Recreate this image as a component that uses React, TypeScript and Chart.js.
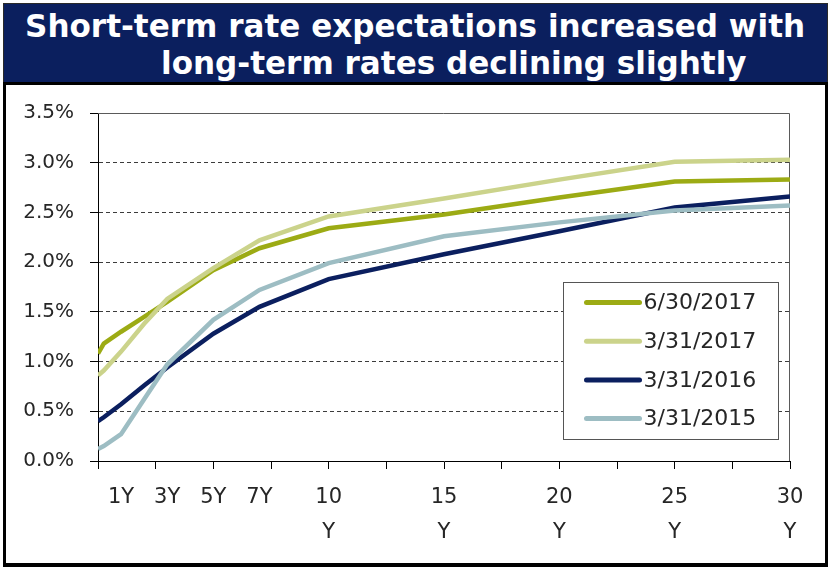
import React, { useEffect, useRef } from 'react';
import { Chart, registerables } from 'chart.js';

Chart.register(...registerables);

// ---- data ----
const maturities = [0, 0.25, 1, 2, 3, 5, 7, 10, 15, 20, 25, 30];
const seriesLabels = ['6/30/2017', '3/31/2017', '3/31/2016', '3/31/2015'];
const jun2017 = [1.08, 1.18, 1.30, 1.45, 1.60, 1.92, 2.14, 2.34, 2.48, 2.65, 2.81, 2.83];
const mar2017 = [0.86, 0.91, 1.10, 1.38, 1.63, 1.94, 2.22, 2.46, 2.64, 2.83, 3.01, 3.03];
const mar2016 = [0.40, 0.44, 0.57, 0.76, 0.94, 1.28, 1.55, 1.83, 2.08, 2.31, 2.55, 2.66];
const mar2015 = [0.12, 0.15, 0.27, 0.62, 0.97, 1.42, 1.72, 1.99, 2.26, 2.40, 2.52, 2.57];
const seriesColors = ['#9cab14', '#cbd38b', '#0b1f5f', '#9dbdc3'];

const xMarkValues = [0, 2.5, 5, 7.5, 10, 12.5, 15, 17.5, 20, 22.5, 25, 27.5, 30];
const xLabelValues = [1, 3, 5, 7, 10, 15, 20, 25, 30];
const xLabelTexts: (string | string[])[] = ['1Y', '3Y', '5Y', '7Y', ['10', 'Y'], ['15', 'Y'], ['20', 'Y'], ['25', 'Y'], ['30', 'Y']];
const yTickValues = [0, 0.5, 1, 1.5, 2, 2.5, 3, 3.5];

const TITLE_LINE_1 = 'Short-term rate expectations increased with';
const TITLE_LINE_2 = 'long-term rates declining slightly';

const FONT = '"DejaVu Sans", Verdana, sans-serif';

const framePlugin = {
  id: 'plotFrame',
  beforeDatasetsDraw(chart: any) {
    const { ctx, chartArea } = chart;
    ctx.save();
    ctx.strokeStyle = '#5a5a5a';
    ctx.lineWidth = 1;
    ctx.beginPath();
    ctx.moveTo(chartArea.left, Math.round(chartArea.top) + 0.5);
    ctx.lineTo(Math.round(chartArea.right) - 0.5, Math.round(chartArea.top) + 0.5);
    ctx.lineTo(Math.round(chartArea.right) - 0.5, chartArea.bottom);
    ctx.stroke();
    ctx.restore();
  },
};

const insideLegendPlugin = {
  id: 'insideLegend',
  afterDatasetsDraw(chart: any) {
    const { ctx, chartArea } = chart;
    const x0 = Math.round(chartArea.right - 227) + 0.5;
    const y0 = Math.round(chartArea.top + 169) + 0.5;
    const w = 215;
    const h = 157;
    ctx.save();
    ctx.fillStyle = '#ffffff';
    ctx.fillRect(x0, y0, w, h);
    ctx.strokeStyle = '#555555';
    ctx.lineWidth = 1;
    ctx.strokeRect(x0, y0, w, h);
    chart.data.datasets.forEach((ds: any, i: number) => {
      const cy = y0 + 20 + i * 38.7;
      ctx.strokeStyle = ds.borderColor;
      ctx.lineWidth = 5;
      ctx.lineCap = 'round';
      ctx.beginPath();
      ctx.moveTo(x0 + 23, cy);
      ctx.lineTo(x0 + 76, cy);
      ctx.stroke();
      ctx.fillStyle = '#262626';
      ctx.font = `22px ${FONT}`;
      ctx.textBaseline = 'middle';
      ctx.textAlign = 'left';
      ctx.fillText(ds.label, x0 + 80, cy + 1);
    });
    ctx.restore();
  },
};

function isMark(v: number) {
  return xMarkValues.some((m) => Math.abs(m - v) < 1e-6);
}

function YieldChart() {
  const ref = useRef<HTMLCanvasElement | null>(null);
  useEffect(() => {
    if (!ref.current) return;
    const all = [jun2017, mar2017, mar2016, mar2015];
    const tickVals = Array.from(new Set([...xMarkValues, ...xLabelValues])).sort((a, b) => a - b);
    const chart = new Chart(ref.current, {
      type: 'line',
      data: {
        datasets: all.map((s, k) => ({
          label: seriesLabels[k],
          data: maturities.map((m, i) => ({ x: m, y: s[i] })),
          borderColor: seriesColors[k],
          backgroundColor: seriesColors[k],
          borderWidth: 4.5,
          pointRadius: 0,
          tension: 0,
          fill: false,
          order: 4 - k,
        })),
      },
      options: {
        responsive: false,
        animation: false,
        events: [],
        layout: { padding: { left: 0, right: 34, top: 28, bottom: 0 } },
        plugins: {
          legend: { display: false },
          tooltip: { enabled: false },
          title: { display: false },
        },
        scales: {
          x: {
            type: 'linear',
            min: 0,
            max: 30,
            afterBuildTicks: (scale: any) => {
              scale.ticks = tickVals.map((v) => ({ value: v }));
            },
            afterFit: (scale: any) => {
              scale.height = 100;
            },
            ticks: {
              autoSkip: false,
              maxRotation: 0,
              minRotation: 0,
              padding: 11,
              color: '#262626',
              font: { family: FONT, size: 21, lineHeight: 1.66 },
              callback: (v: any) => {
                const idx = xLabelValues.findIndex((l) => Math.abs(l - Number(v)) < 1e-6);
                return idx >= 0 ? xLabelTexts[idx] : '';
              },
            },
            grid: {
              drawOnChartArea: false,
              drawTicks: true,
              tickLength: 8,
              tickColor: (c: any) => (c.tick && isMark(c.tick.value) ? '#000000' : 'rgba(0,0,0,0)'),
              color: 'rgba(0,0,0,0)',
            },
            border: { display: true, color: '#000000', width: 1 },
          },
          y: {
            type: 'linear',
            min: 0,
            max: 3.5,
            afterBuildTicks: (scale: any) => {
              scale.ticks = yTickValues.map((v) => ({ value: v }));
            },
            afterFit: (scale: any) => {
              scale.width = 91;
            },
            ticks: {
              padding: 16,
              color: '#262626',
              font: { family: FONT, size: 20 },
              callback: (v: any) => Number(v).toFixed(1) + '%',
            },
            grid: {
              drawTicks: true,
              tickLength: 8,
              tickColor: '#000000',
              lineWidth: 1,
              color: (c: any) =>
                c.tick && (c.tick.value === 0 || c.tick.value === 3.5) ? 'rgba(0,0,0,0)' : '#3c3c3c',
            },
            border: { display: true, color: '#000000', width: 1, dash: [4, 3] },
          },
        },
      } as any,
      plugins: [framePlugin, insideLegendPlugin],
    });
    return () => chart.destroy();
  }, []);
  return <canvas ref={ref} width={817} height={476} style={{ display: 'block' }} />;
}

export default function App() {
  return (
    <div style={{ position: 'absolute', left: 0, top: 0, width: 830, height: 571, background: '#ffffff', overflow: 'hidden' }}>
      <div
        style={{
          position: 'absolute',
          left: 3,
          top: 3,
          width: 825,
          height: 80,
          boxSizing: 'border-box',
          background: '#0b1f5e',
          border: '1px solid #2a2a2a',
          color: '#ffffff',
          fontFamily: FONT,
          fontWeight: 'bold',
          fontSize: 32,
          lineHeight: '37px',
          textAlign: 'center',
          paddingTop: 4,
          whiteSpace: 'nowrap',
        }}
      >
        <div>
          <span style={{ display: 'inline-block', transform: 'scaleX(0.97)' }}>{TITLE_LINE_1}</span>
        </div>
        <div style={{ paddingLeft: 76 }}>
          <span style={{ display: 'inline-block', transform: 'scaleX(0.97)' }}>{TITLE_LINE_2}</span>
        </div>
      </div>
      <div
        style={{
          position: 'absolute',
          left: 3,
          top: 82,
          width: 825,
          height: 485,
          boxSizing: 'border-box',
          borderStyle: 'solid',
          borderColor: '#000000',
          borderWidth: '3px 3px 4px 3px',
          background: '#ffffff',
        }}
      />
      <div style={{ position: 'absolute', left: 7, top: 85, width: 817, height: 476 }}>
        <YieldChart />
      </div>
    </div>
  );
}
